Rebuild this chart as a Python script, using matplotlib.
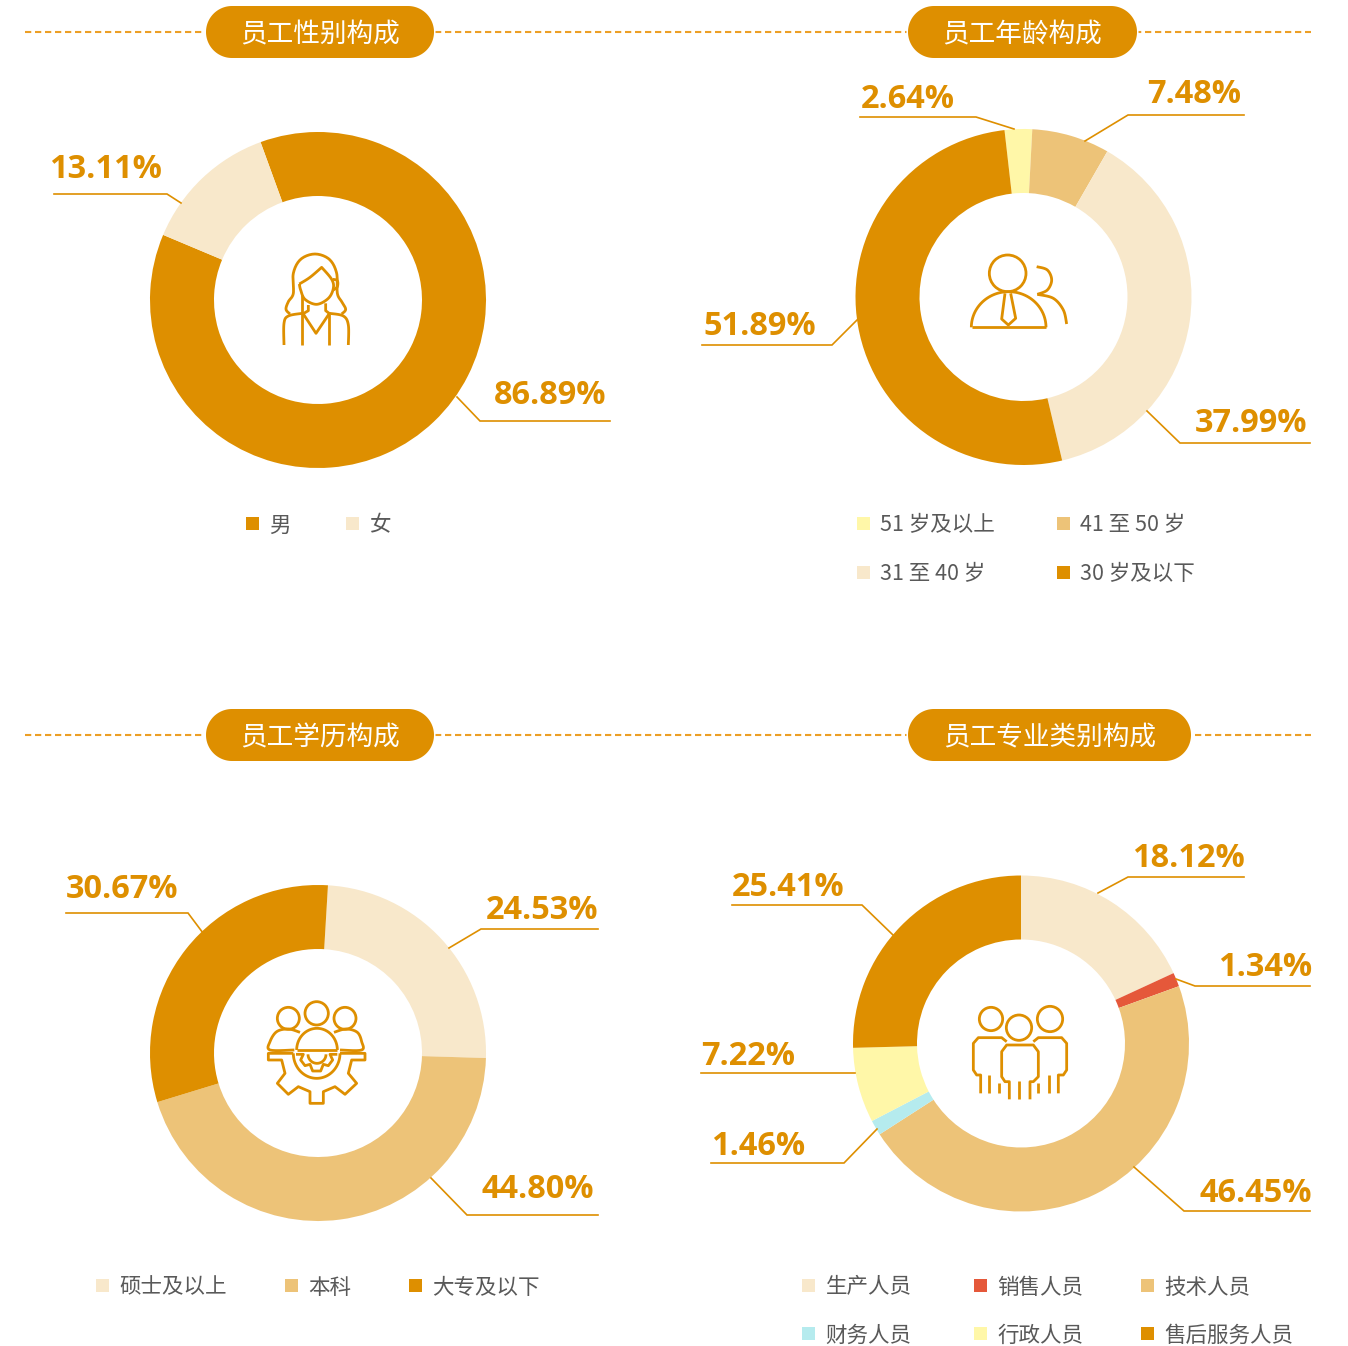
import numpy as np
import matplotlib
matplotlib.use('Agg')
import matplotlib.pyplot as plt
from matplotlib.patches import Polygon, Rectangle, Circle

plt.rcParams['font.family'] = ['Noto Sans CJK SC', 'DejaVu Sans']

W, H = 1348, 1346
DPI = 100
ORANGE = '#DE8F00'
CREAM = '#F8E8CB'
SAND = '#EDC378'
YELLOW = '#FFF7A8'
RED = '#E5583A'
CYAN = '#B5EBEE'
GRAY = '#595959'

# data
gender_labels = ['男', '女']
gender_values = [86.89, 13.11]
age_labels = ['51 岁及以上', '41 至 50 岁', '31 至 40 岁', '30 岁及以下']
age_values = [2.64, 7.48, 37.99, 51.89]
edu_labels = ['硕士及以上', '本科', '大专及以下']
edu_values = [24.53, 44.80, 30.67]
job_labels = ['生产人员', '销售人员', '技术人员', '财务人员', '行政人员', '售后服务人员']
job_values = [18.12, 1.34, 46.45, 1.46, 7.22, 25.41]

gender_colors = [ORANGE, CREAM]
age_colors = [YELLOW, SAND, CREAM, ORANGE]
edu_colors = [CREAM, SAND, ORANGE]
job_colors = [CREAM, RED, SAND, CYAN, YELLOW, ORANGE]

fig = plt.figure(figsize=(W / DPI, H / DPI), dpi=DPI, facecolor='white')


def donut(cx, cy, values, colors, start):
    r = 168
    size = r * 2.5
    ax = fig.add_axes([(cx - size / 2) / W, 1 - (cy + size / 2) / H, size / W, size / H])
    ax.pie(values, colors=colors, startangle=start, counterclock=False, radius=1,
           wedgeprops=dict(width=64 / 168, linewidth=0))


donut(318, 300, gender_values, gender_colors, 110)
donut(1023.5, 297, age_values, age_colors, 96.5)
donut(318, 1053, edu_values, edu_colors, 86.6)
donut(1021, 1043.5, job_values, job_colors, 90)

# overlay in pixel coordinates
ov = fig.add_axes([0, 0, 1, 1])
ov.set_xlim(0, W)
ov.set_ylim(H, 0)
ov.axis('off')
ov.patch.set_alpha(0)


def arc(cx, cy, rx, ry, a0, a1):
    t = np.radians(np.linspace(a0, a1, 60))
    return np.column_stack([cx + rx * np.cos(t), cy - ry * np.sin(t)])


def header(text, x0, x1, y):
    r = 26
    outline = np.vstack([arc(x1 - r, y, r, r, -90, 90), arc(x0 + r, y, r, r, 90, 270)])
    ov.add_patch(Polygon(outline, closed=True, facecolor=ORANGE, edgecolor='white',
                         linewidth=2.2, zorder=3))
    ov.add_patch(Polygon(outline, closed=True, facecolor=ORANGE, linewidth=0, zorder=3))
    ov.text((x0 + x1) / 2, y + 2.5, text, color='white', fontsize=19.2, ha='center',
            va='center', zorder=4)


for y in [32, 735]:
    ov.plot([25, 1311], [y, y], color='#EC9F25', lw=1.5, dashes=(3.0, 1.8), zorder=1)

header('员工性别构成', 206, 434, 32)
header('员工年龄构成', 908, 1137, 32)
header('员工学历构成', 206, 434, 735)
header('员工专业类别构成', 908, 1191, 735)

# value labels: text, left x, centre y, leader line
callouts = [
    (gender_values[0], 494, 393, [(457, 397), (480, 421), (610, 421)]),
    (gender_values[1], 49, 167, [(54, 194), (167, 194), (181, 203)]),
    (age_values[0], 861, 97, [(860, 117), (976, 117), (1014, 129)]),
    (age_values[1], 1147, 92, [(1244, 115), (1128, 115), (1085, 141)]),
    (age_values[2], 1195, 421, [(1310, 443), (1180, 443), (1147, 411)]),
    (age_values[3], 703, 324, [(702, 345), (832, 345), (858, 319)]),
    (edu_values[0], 486, 908, [(598, 929), (481, 929), (449, 948)]),
    (edu_values[1], 482, 1187, [(598, 1215), (467, 1215), (431, 1178)]),
    (edu_values[2], 66, 887, [(66, 913), (188, 913), (203, 933)]),
    (job_values[0], 1132, 856, [(1244, 877), (1128, 877), (1098, 893)]),
    (job_values[1], 1218, 965, [(1310, 986), (1195, 986), (1176, 979)]),
    (job_values[2], 1199, 1191, [(1310, 1211), (1184, 1211), (1134, 1167)]),
    (job_values[3], 711, 1144, [(711, 1163), (844, 1163), (877, 1129)]),
    (job_values[4], 701, 1054, [(701, 1073), (855, 1073)]),
    (job_values[5], 732, 885, [(732, 905), (862, 905), (893, 935)]),
]
for val, x, y, pts in callouts:
    ov.text(x, y + 11, f'{val:.2f}%', color=ORANGE, fontsize=23.4, fontweight='bold',
            family='Open Sans', ha='left', va='baseline')
    xs, ys = zip(*pts)
    ov.plot(xs, ys, color=ORANGE, lw=1.2, solid_joinstyle='miter')

# legends
legends = [
    (gender_labels, gender_colors, [(246, 524), (346, 524)]),
    (age_labels, age_colors, [(857, 524), (1057, 524), (857, 573), (1057, 573)]),
    (edu_labels, edu_colors, [(96, 1286), (285, 1286), (409, 1286)]),
    (job_labels, job_colors, [(802, 1286), (974, 1286), (1141, 1286),
                              (802, 1334), (974, 1334), (1141, 1334)]),
]
for labels, colors, spots in legends:
    for lab, col, (x, y) in zip(labels, colors, spots):
        ov.add_patch(Rectangle((x, y - 7), 13, 13, facecolor=col, linewidth=0))
        ov.text(x + 23.5, y + 1.5, lab, color=GRAY, fontsize=15.5, ha='left', va='center')


def smooth(pts, n=12):
    p = np.array(pts, dtype=float)
    p = np.vstack([p[0], p, p[-1]])
    out = []
    for i in range(1, len(p) - 2):
        t = np.linspace(0, 1, n)[:, None]
        a, b, c, d = p[i - 1], p[i], p[i + 1], p[i + 2]
        out.append(0.5 * (2 * b + (c - a) * t + (2 * a - 5 * b + 4 * c - d) * t ** 2
                          + (3 * b - a - 3 * c + d) * t ** 3))
    return np.vstack(out)


def icon(x0, y0, paths, circles=()):
    for p in paths:
        p = np.asarray(p, dtype=float)
        ov.plot(x0 + p[:, 0] / 3, y0 + p[:, 1] / 3, color=ORANGE, lw=2.0,
                solid_capstyle='butt', solid_joinstyle='round')
    for cx, cy, r in circles:
        ov.add_patch(Circle((x0 + cx / 3, y0 + cy / 3), r / 3, fill=False,
                            edgecolor=ORANGE, linewidth=2.0))


# woman
icon(260, 240, [
    smooth([(90, 222), (78, 208), (85, 185), (100, 160), (100, 100), (122, 58), (165, 42),
            (208, 58), (230, 100), (232, 160), (245, 185), (257, 208), (245, 222)]),
    smooth([(118, 132), (150, 112), (185, 82)], 6).tolist()
    + smooth([(185, 82), (215, 118), (220, 145), (205, 175), (170, 193), (135, 178),
              (122, 150), (118, 132)]).tolist(),
    smooth([(218, 118), (232, 122), (232, 140), (220, 150)]),
    [(145, 195), (145, 212), (128, 222)],
    [(197, 190), (197, 212), (210, 222)],
    [(130, 222), (168, 280), (207, 222)],
    smooth([(72, 315), (72, 250), (85, 228), (127, 220)]),
    smooth([(265, 315), (265, 255), (250, 228), (208, 220)]),
    [(127, 165), (127, 315)],
    [(207, 222), (207, 315)],
])

# manager with colleague
icon(960, 245, [
    arc(146, 247, 112, 107, 0, 180),
    [(35, 247), (258, 247)],
    [(135, 145), (125, 222), (145, 240), (167, 220), (152, 145)],
    smooth([(230, 65), (262, 75), (275, 105), (262, 135), (232, 148)]),
    smooth([(232, 148), (280, 160), (310, 195), (320, 237)]),
], [(143, 85, 55)])

# workers and gear
icon(260, 995, [
    smooth([(103, 165), (30, 165), (30, 140), (50, 110), (85, 102), (120, 112)], 8),
    [(110, 165), (232, 165)],
    arc(171, 165, 61, 65, 0, 180),
    smooth([(222, 112), (258, 102), (292, 112), (305, 140), (305, 165), (240, 165)], 8),
    [(100, 175), (25, 175), (25, 195), (65, 195), (75, 235), (52, 265), (85, 298), (115, 275),
     (150, 290), (150, 325), (190, 325), (190, 290), (225, 275), (255, 298), (290, 265),
     (265, 235), (275, 195), (315, 195), (315, 175), (240, 175)],
    arc(170, 175, 70, 75, 0, -180),
    [(108, 178), (130, 178), (122, 195), (135, 212), (150, 208), (158, 228), (182, 228),
     (190, 208), (205, 212), (218, 195), (210, 178), (232, 178)],
    arc(171, 178, 27, 27, 0, -180),
], [(85, 70, 33), (170, 55, 35), (255, 70, 33)])

# three staff
icon(965, 1000, [
    [(125, 125), (110, 113), (40, 113), (25, 130), (25, 210), (35, 225), (47, 225), (47, 280)],
    [(72, 225), (72, 280)],
    [(103, 250), (103, 280)],
    [(133, 298), (133, 245), (120, 245), (110, 230), (110, 155), (125, 135), (205, 135),
     (220, 155), (220, 230), (205, 245), (195, 245), (195, 298)],
    [(163, 243), (163, 298)],
    [(205, 125), (220, 113), (290, 113), (305, 130), (305, 210), (295, 225), (280, 225), (280, 280)],
    [(252, 225), (252, 280)],
    [(220, 250), (220, 280)],
], [(78, 57, 35), (162, 83, 38), (255, 57, 38)])

fig.savefig('out.png', dpi=DPI)
